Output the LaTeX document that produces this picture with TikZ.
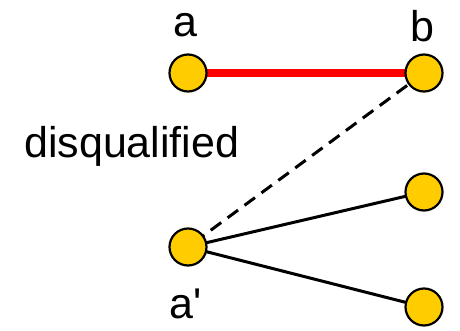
\documentclass[tikz,border=0pt]{standalone}
\usepackage{fontspec}
\setmainfont{Liberation Sans}
\definecolor{nodeyellow}{HTML}{FFCC00}
\definecolor{edgered}{HTML}{FF0000}
\begin{document}
\begin{tikzpicture}[x=1pt,y=1pt,
  vtx/.style={circle,draw=black,line width=2.2pt,fill=nodeyellow,minimum size=37pt,inner sep=0pt},
  lbl/.style={font=\fontsize{43}{43}\selectfont,inner sep=0pt},
  edge/.style={line width=3pt,black},
  redge/.style={line width=8pt,edgered},
  dedge/.style={line width=3pt,black,dash pattern=on 13pt off 8pt}]
\useasboundingbox (0,0) rectangle (460,330);
\coordinate (A) at (188,257);
\coordinate (B) at (424,257);
\coordinate (AP) at (188,83);
\coordinate (C) at (424,138);
\coordinate (D) at (424,23);
\draw[redge] (A) -- (B);
\draw[dedge] (B) -- (AP);
\draw[edge] (AP) -- (C);
\draw[edge] (AP) -- (D);
\node[vtx] (a) at (A) {};
\node[vtx] (b) at (B) {};
\node[vtx] (ap) at (AP) {};
\node[vtx] (c) at (C) {};
\node[vtx] (d) at (D) {};
\node[lbl,anchor=base] (la) at (185,293) {a};
\node[lbl,anchor=base] (lb) at (422,288) {b};
\node[lbl,anchor=base] (lap) at (186,12) {a\textquotesingle};
\node[lbl,anchor=base west] (dq) at (24,173) {disqualified};
\end{tikzpicture}
\end{document}
